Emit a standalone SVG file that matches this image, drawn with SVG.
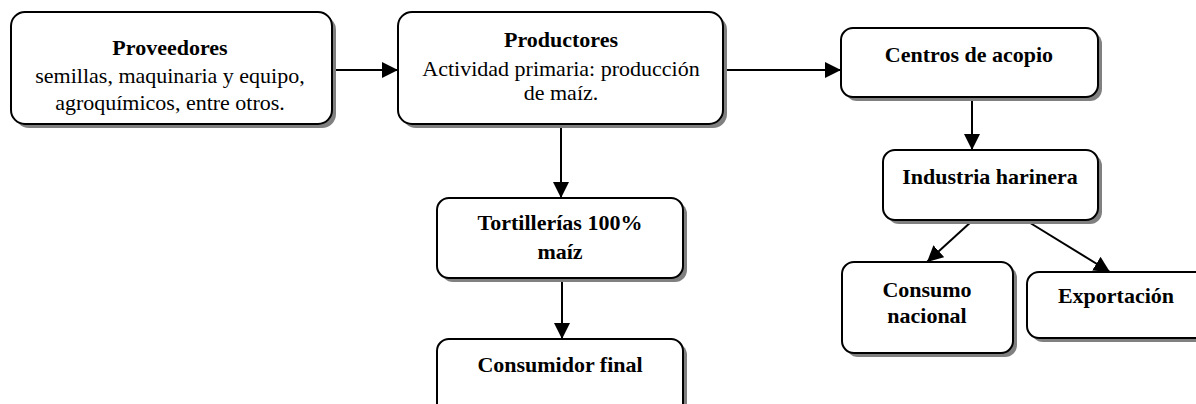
<svg xmlns="http://www.w3.org/2000/svg" width="1196" height="404" viewBox="0 0 1196 404">
<style>
.box{fill:#fff;stroke:#000;stroke-width:2}
.sh{fill:#808080}
.t{font-family:"Liberation Serif","Times New Roman",serif;font-size:22px;fill:#000;text-anchor:middle}
.b{font-weight:bold}
.c{stroke:#000;stroke-width:2;fill:none;marker-end:url(#ah)}
</style>
<defs>
<marker id="ah" markerUnits="userSpaceOnUse" markerWidth="18" markerHeight="18" refX="16" refY="8" orient="auto">
<path d="M0,0 L16,8 L0,16 z" fill="#000"/>
</marker>
</defs>
<rect width="1196" height="404" fill="#fff"/>
<g id="connectors">
<line class="c" x1="333" y1="70" x2="398" y2="70"/>
<line class="c" x1="724" y1="70" x2="841" y2="70"/>
<line class="c" x1="972" y1="98" x2="972" y2="150"/>
<line class="c" x1="561" y1="125" x2="561" y2="198"/>
<line class="c" x1="562" y1="279" x2="562" y2="339"/>
<line class="c" x1="972" y1="221" x2="927" y2="262"/>
<line class="c" x1="1027" y1="221" x2="1110" y2="272"/>
</g>
<g id="proveedores">
<rect class="sh" x="15" y="16" width="321" height="112" rx="14"/>
<rect class="box" x="11" y="12" width="321" height="112" rx="14"/>
<text class="t b" x="170" y="55">Proveedores</text>
<text class="t" x="170" y="83">semillas, maquinaria y equipo,</text>
<text class="t" x="170" y="110">agroquímicos, entre otros.</text>
</g>
<g id="productores">
<rect class="sh" x="402" y="16" width="325" height="112" rx="14"/>
<rect class="box" x="398" y="12" width="325" height="112" rx="14"/>
<text class="t b" x="561" y="47">Productores</text>
<text class="t" x="561" y="76">Actividad primaria: producción</text>
<text class="t" x="561" y="100">de maíz.</text>
</g>
<g id="centros">
<rect class="sh" x="845" y="32" width="257" height="69" rx="12"/>
<rect class="box" x="841" y="28" width="257" height="69" rx="12"/>
<text class="t b" x="969" y="62">Centros de acopio</text>
</g>
<g id="industria">
<rect class="sh" x="887" y="154" width="215" height="70" rx="12"/>
<rect class="box" x="883" y="150" width="215" height="70" rx="12"/>
<text class="t b" x="990" y="184">Industria harinera</text>
</g>
<g id="tortillerias">
<rect class="sh" x="441" y="202" width="246" height="80" rx="12"/>
<rect class="box" x="437" y="198" width="246" height="80" rx="12"/>
<text class="t b" x="560" y="230">Tortillerías 100%</text>
<text class="t b" x="560" y="259">maíz</text>
</g>
<g id="consumidor">
<rect class="sh" x="441" y="343" width="246" height="80" rx="12"/>
<rect class="box" x="437" y="339" width="246" height="80" rx="12"/>
<text class="t b" x="560" y="372">Consumidor final</text>
</g>
<g id="consumo">
<rect class="sh" x="846" y="266" width="171" height="91" rx="12"/>
<rect class="box" x="842" y="262" width="171" height="91" rx="12"/>
<text class="t b" x="927" y="297">Consumo</text>
<text class="t b" x="927" y="323">nacional</text>
</g>
<g id="exportacion">
<rect class="sh" x="1031" y="276" width="180" height="66" rx="12"/>
<rect class="box" x="1027" y="272" width="180" height="66" rx="12"/>
<text class="t b" x="1116" y="303">Exportación</text>
</g>
</svg>
